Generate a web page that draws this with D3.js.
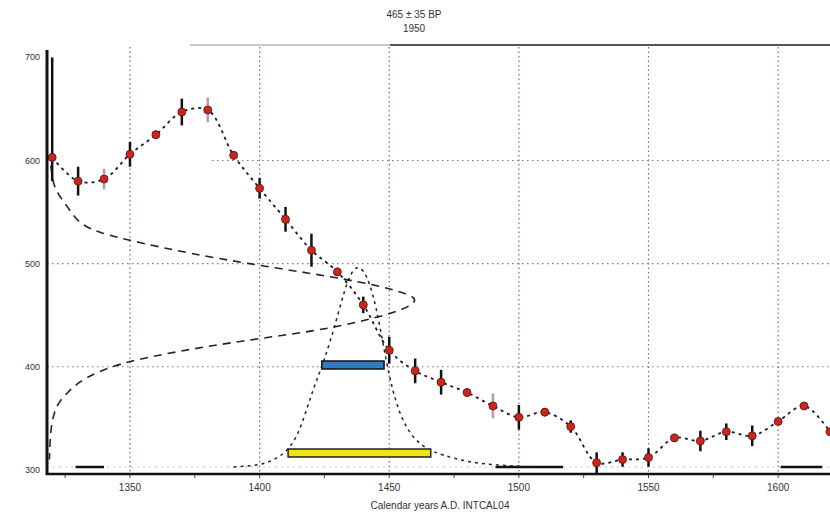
<!DOCTYPE html>
<html>
<head>
<meta charset="utf-8">
<script src="https://cdn.jsdelivr.net/npm/d3@7"></script>
<style>
  body { margin: 0; background: #fff; }
  svg { display: block; font-family: "Liberation Sans", Arial, sans-serif; }
</style>
</head>
<body>
<svg id="chart" width="830" height="515"></svg>
<script>
// Données

const titleLines = ["465 ± 35 BP", "1950"];
const xLabel = "Calendar years A.D. INTCAL04";

// courbe de calibration (années, BP, erreurs)
const curveYears = [1320, 1330, 1340, 1350, 1360, 1370, 1380, 1390, 1400, 1410,
  1420, 1430, 1440, 1450, 1460, 1470, 1480, 1490, 1500, 1510,
  1520, 1530, 1540, 1550, 1560, 1570, 1580, 1590, 1600, 1610, 1620];
const curveBP = [603, 580, 582, 606, 625, 647, 649, 605, 573, 543,
  513, 492, 460, 416, 396, 385, 375, 362, 351, 356,
  342, 307, 310, 312, 331, 328, 337, 333, 347, 362, 337];
const errMinus = [23, 14, 10, 12, 4, 13, 12, 4, 10, 12,
  16, 4, 8, 13, 12, 12, 4, 12, 12, 4,
  6, 10, 7, 9, 4, 10, 8, 10, 3, 3, 3];
const errPlus = [97, 14, 10, 12, 4, 13, 12, 4, 10, 12,
  16, 4, 8, 13, 12, 12, 4, 12, 12, 4,
  6, 10, 7, 9, 4, 10, 8, 10, 3, 3, 3];

// distribution de la date radiocarbone (axe vertical)
const dateBP = [595, 580, 570, 560, 550, 540, 530, 520, 510, 500, 490, 480, 470,
  464, 455, 445, 435, 425, 415, 405, 395, 385, 375, 365, 355, 345, 330, 310];
const dateDensity = [0.005, 0.01, 0.02, 0.04, 0.06, 0.08, 0.13, 0.25, 0.38, 0.54, 0.72, 0.88, 0.98,
  1.0, 0.96, 0.86, 0.73, 0.52, 0.35, 0.21, 0.13, 0.08, 0.05, 0.025, 0.014, 0.007, 0.003, 0.001];

// distribution calibrée (axe horizontal)
const calYears = [1390, 1395, 1400, 1405, 1410, 1415, 1420, 1425, 1430, 1435, 1440, 1445,
  1450, 1455, 1460, 1465, 1470, 1480, 1490, 1500, 1505];
const calProb = [0, 0.004, 0.01, 0.03, 0.07, 0.15, 0.36, 0.52, 0.73, 0.97, 0.99, 0.8,
  0.42, 0.22, 0.13, 0.085, 0.06, 0.025, 0.01, 0.004, 0];

// intervalles 68,2 % et 95,4 %
const range68 = [1424, 1448];
const range95 = [1411, 1466];

// segments noirs sur la ligne de base
const baseSegments = [[1329, 1340], [1491, 1517], [1601, 1617]];

const xTicks = [1350, 1400, 1450, 1500, 1550, 1600];
const xMinorTicks = [1325, 1375, 1425, 1475, 1525, 1575];
const yTicks = [300, 400, 500, 600, 700];

// barres d'erreur claires (style)
const faintBars = [1340, 1380, 1490];

// Échelles

const svg = d3.select("#chart");
const m = { left: 47, right: 830, top: 45, bottom: 474 };

const x = d3.scaleLinear().domain([1318, 1620]).range([m.left, m.right]);
const y = d3.scaleLinear().domain([296, 712]).range([m.bottom, m.top]);
const dens = d3.scaleLinear().domain([0, 1]).range([m.left + 2, 418]);
const prob = d3.scaleLinear().domain([0, 1]).range([467, 262]);

// Titre
svg.selectAll(".title")
  .data(titleLines)
  .enter()
  .append("text")
  .attr("x", 414)
  .attr("y", (d, i) => 18 + i * 14)
  .attr("text-anchor", "middle")
  .style("font-size", "10px")
  .style("fill", "#333")
  .text((d) => d);

// cadre supérieur
svg.append("line")
  .attr("x1", 190).attr("x2", 390).attr("y1", m.top).attr("y2", m.top)
  .style("stroke", "#c8c8c8").style("stroke-width", 2);
svg.append("line")
  .attr("x1", 390).attr("x2", m.right).attr("y1", m.top).attr("y2", m.top)
  .style("stroke", "#555").style("stroke-width", 2);

const plot = svg.append("g");
plot.append("clipPath").attr("id", "clip")
  .append("rect").attr("x", m.left).attr("y", m.top)
  .attr("width", m.right - m.left).attr("height", m.bottom - m.top);

// Grille pointillée
plot.selectAll(".vgrid")
  .data(xTicks)
  .enter()
  .append("line")
  .attr("x1", (d) => x(d)).attr("x2", (d) => x(d))
  .attr("y1", m.top + 2).attr("y2", m.bottom)
  .style("stroke", "#8b6470")
  .style("stroke-width", 1.2)
  .style("stroke-dasharray", "1.5,3");

plot.selectAll(".hgrid")
  .data([400, 500, 600])
  .enter()
  .append("line")
  .attr("x1", (d) => (d === 600 ? 212 : m.left))
  .attr("x2", m.right)
  .attr("y1", (d) => y(d)).attr("y2", (d) => y(d))
  .style("stroke", "#8b7080")
  .style("stroke-width", 1.2)
  .style("stroke-dasharray", "1.5,3.5");

// ligne de base claire
plot.append("line")
  .attr("x1", m.left).attr("x2", m.right).attr("y1", prob(0)).attr("y2", prob(0))
  .style("stroke", "#b8c4e0").style("stroke-width", 1).style("stroke-dasharray", "2,4");

plot.selectAll(".seg")
  .data(baseSegments)
  .enter()
  .append("line")
  .attr("x1", (d) => x(d[0])).attr("x2", (d) => x(d[1]))
  .attr("y1", prob(0)).attr("y2", prob(0))
  .style("stroke", "#111").style("stroke-width", 2.5);

const g = plot.append("g").attr("clip-path", "url(#clip)");

// Distribution radiocarbone sur l'axe vertical
const dateLine = d3.line()
  .x((d, i) => dens(dateDensity[i]))
  .y((d) => y(d))
  .curve(d3.curveBasis);

g.append("path")
  .attr("d", dateLine(dateBP))
  .style("fill", "none")
  .style("stroke", "#222")
  .style("stroke-width", 1.6)
  .style("stroke-dasharray", "8,6");

// Distribution calibrée
const calLine = d3.line()
  .x((d) => x(d))
  .y((d, i) => prob(calProb[i]))
  .curve(d3.curveBasis);

g.append("path")
  .attr("d", calLine(calYears))
  .style("fill", "none")
  .style("stroke", "#222")
  .style("stroke-width", 1.5)
  .style("stroke-dasharray", "3,4");

// Intervalles
g.append("rect")
  .attr("x", x(range68[0])).attr("width", x(range68[1]) - x(range68[0]))
  .attr("y", 361).attr("height", 8)
  .style("fill", "#2f7bc4").style("stroke", "#111").style("stroke-width", 1.5);

g.append("rect")
  .attr("x", x(range95[0])).attr("width", x(range95[1]) - x(range95[0]))
  .attr("y", 449).attr("height", 8)
  .style("fill", "#f2e21a").style("stroke", "#222").style("stroke-width", 1.5);

// Courbe de calibration
const curveLine = d3.line()
  .x((d) => x(d))
  .y((d, i) => y(curveBP[i]))
  .curve(d3.curveCatmullRom.alpha(0.5));

g.append("path")
  .attr("d", curveLine(curveYears))
  .style("fill", "none")
  .style("stroke", "#1a1a2a")
  .style("stroke-width", 1.8)
  .style("stroke-dasharray", "3,4");

// barres d'erreur
g.selectAll(".err")
  .data(curveYears)
  .enter()
  .append("line")
  .attr("x1", (d) => x(d)).attr("x2", (d) => x(d))
  .attr("y1", (d, i) => y(curveBP[i] + errPlus[i]))
  .attr("y2", (d, i) => y(curveBP[i] - errMinus[i]))
  .style("stroke", (d) => (faintBars.includes(d) ? "#b89aa8" : "#111"))
  .style("stroke-width", 2.5);

g.selectAll(".pt")
  .data(curveYears)
  .enter()
  .append("circle")
  .attr("cx", (d) => x(d))
  .attr("cy", (d, i) => y(curveBP[i]))
  .attr("r", 4)
  .style("fill", "#c8281c")
  .style("stroke", "#5a1010")
  .style("stroke-width", 0.8);

// Axes
const xAxis = svg.append("g").attr("transform", "translate(0," + m.bottom + ")");
xAxis.append("line")
  .attr("x1", m.left - 1).attr("x2", m.right).attr("y1", 0).attr("y2", 0)
  .style("stroke", "#111").style("stroke-width", 2.5);
xAxis.selectAll(".tick")
  .data(xTicks.concat(xMinorTicks))
  .enter()
  .append("line")
  .attr("x1", (d) => x(d)).attr("x2", (d) => x(d))
  .attr("y1", 1).attr("y2", 4)
  .style("stroke", "#444").style("stroke-width", 1);
xAxis.selectAll(".lbl")
  .data(xTicks)
  .enter()
  .append("text")
  .attr("x", (d) => x(d))
  .attr("y", 17)
  .attr("text-anchor", "middle")
  .style("font-size", "10px")
  .style("fill", "#333")
  .text((d) => d);

svg.append("text")
  .attr("x", 440).attr("y", 509)
  .attr("text-anchor", "middle")
  .style("font-size", "10px")
  .style("fill", "#333")
  .text(xLabel);

svg.append("line")
  .attr("x1", m.left).attr("x2", m.left).attr("y1", 50).attr("y2", m.bottom + 1)
  .style("stroke", "#111").style("stroke-width", 3);

svg.selectAll(".ylbl")
  .data(yTicks)
  .enter()
  .append("text")
  .attr("x", 40)
  .attr("y", (d) => y(d) + 3)
  .attr("text-anchor", "end")
  .style("font-size", "9px")
  .style("fill", "#333")
  .text((d) => d);
</script>
</body>
</html>
